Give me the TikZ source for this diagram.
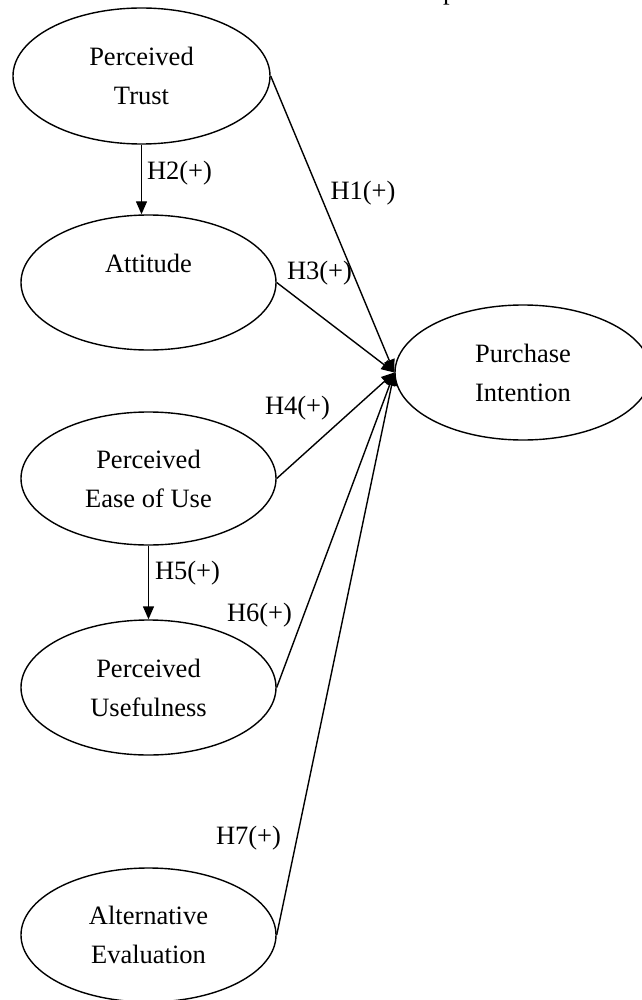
\documentclass[tikz,border=0pt]{standalone}
\usepackage{fontspec}
\setmainfont{Liberation Serif}
\usetikzlibrary{arrows.meta,shapes.geometric}
\begin{document}
\begin{tikzpicture}[x=1pt,y=-1pt,
  every node/.style={font=\fontsize{26.5}{39}\selectfont},
  construct/.style={draw, line width=1.4pt, ellipse, inner sep=0pt, align=center,
    minimum width=255pt, minimum height=135pt},
  hpath/.style={line width=1.4pt, -{Triangle[width=11pt,length=13pt]}},
  hyp/.style={inner sep=0pt}]
\fill[white] (0,0) rectangle (641,1000);
\useasboundingbox (0,0) rectangle (641,1000);
\node[hyp, anchor=base west] (ptop) at (443,0) {p};
\node[construct, minimum width=257pt, minimum height=136pt] (trust) at (141.5,76) {Perceived\\Trust};
\node[construct] (att) at (148.5,282.5) {Attitude\\\phantom{Attitude}};
\node[construct, minimum width=256pt] (pi) at (523,372.5) {Purchase\\Intention};
\node[construct, minimum height=133pt] (ease) at (148.5,478.5) {Perceived\\Ease of Use};
\node[construct] (use) at (148.5,687.5) {Perceived\\Usefulness};
\node[construct, minimum height=134pt] (alt) at (148.5,935) {Alternative\\Evaluation};
\draw[hpath] (trust.south) -- (trust.south |- att.north);
\draw[hpath] (ease.south) -- (ease.south |- use.north);
\draw[hpath] (trust.east) -- (pi.west);
\draw[hpath] (att.east) -- (pi.west);
\draw[hpath] (ease.east) -- (pi.west);
\draw[hpath] (use.east) -- (pi.west);
\draw[hpath] (alt.east) -- (pi.west);
\node[hyp] (h1) at (363,193) {H1(+)};
\node[hyp] (h2) at (179.5,173) {H2(+)};
\node[hyp] (h3) at (319.5,273) {H3(+)};
\node[hyp] (h4) at (297.5,408) {H4(+)};
\node[hyp] (h5) at (187.5,573) {H5(+)};
\node[hyp] (h6) at (259.5,615) {H6(+)};
\node[hyp] (h7) at (248.5,838) {H7(+)};
\end{tikzpicture}
\end{document}
